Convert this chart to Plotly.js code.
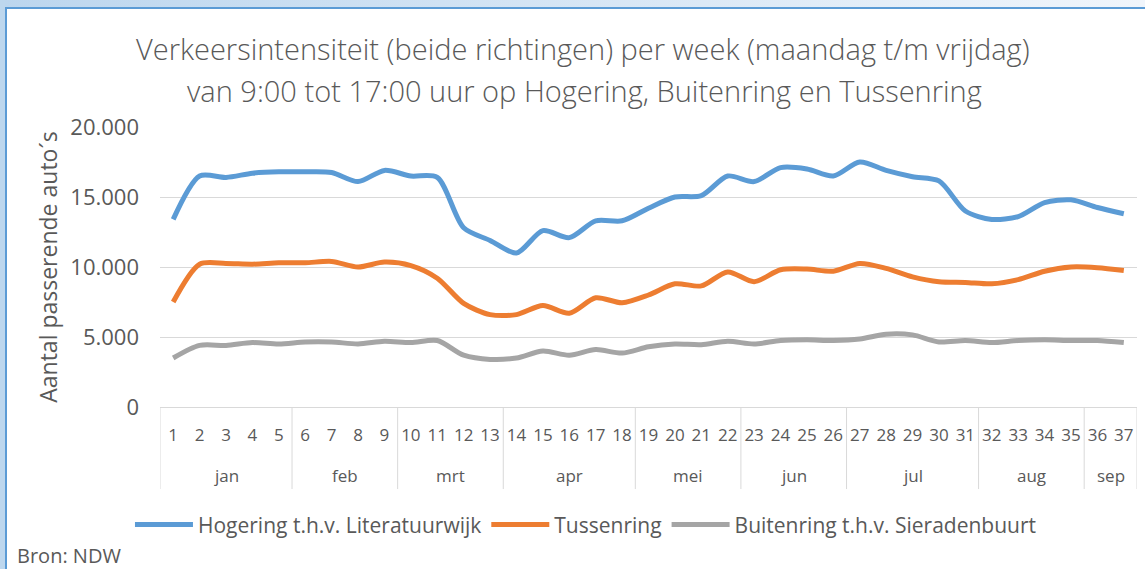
<!DOCTYPE html>
<html>
<head>
<meta charset="utf-8">
<script src="https://cdn.plot.ly/plotly-3.0.1.min.js"></script>
<style>
  html, body { margin: 0; padding: 0; background: #ffffff; }
  #wrap { position: relative; width: 1145px; height: 569px; overflow: hidden; }
  #chart { position: absolute; left: 0; top: 0; width: 1145px; height: 569px; }
  #topband { position: absolute; left: 0; top: 0; width: 1145px; height: 7px;
    background: linear-gradient(to right, #bcd6ee, #f0f5fb); }
  #topline { position: absolute; left: 5px; top: 7px; width: 1140px; height: 2px; background: #5b9bd5; }
  #leftband { position: absolute; left: 0; top: 0; width: 5px; height: 569px; background: #bdd7ee; }
  #leftline { position: absolute; left: 5px; top: 7px; width: 2px; height: 562px; background: #5b9bd5; }
</style>
</head>
<body>
<div id="wrap">
  <div id="chart"></div>
  <div id="topband"></div>
  <div id="leftband"></div>
  <div id="topline"></div>
  <div id="leftline"></div>
</div>
<script>
const weeks = ["1","2","3","4","5","6","7","8","9","10","11","12","13","14","15","16","17","18","19","20","21","22","23","24","25","26","27","28","29","30","31","32","33","34","35","36","37"];
const months = ["jan","jan","jan","jan","jan","feb","feb","feb","feb","mrt","mrt","mrt","mrt","apr","apr","apr","apr","apr","mei","mei","mei","mei","jun","jun","jun","jun","jul","jul","jul","jul","jul","aug","aug","aug","aug","sep","sep"];

const hogering = [13400,16500,16400,16700,16800,16800,16750,16100,16900,16500,16400,12800,11900,11000,12600,12100,13300,13300,14200,15000,15100,16500,16100,17100,17000,16500,17500,16900,16450,16150,14000,13400,13600,14600,14800,14250,13800];
const tussenring = [7500,10200,10250,10200,10300,10300,10400,10000,10350,10100,9200,7400,6600,6600,7250,6700,7800,7450,8000,8800,8650,9650,8950,9800,9850,9700,10250,9900,9300,8950,8900,8800,9100,9700,10000,9950,9750];
const buitenring = [3500,4400,4400,4600,4500,4650,4650,4500,4700,4600,4750,3700,3400,3500,4000,3700,4100,3850,4300,4500,4450,4700,4500,4750,4800,4750,4850,5200,5150,4650,4750,4600,4750,4800,4750,4750,4600];

const seriesNames = ["Hogering t.h.v. Literatuurwijk", "Tussenring", "Buitenring t.h.v. Sieradenbuurt"];
const seriesColors = ["#5b9bd5", "#ed7d31", "#a5a5a5"];
const seriesData = [hogering, tussenring, buitenring];

const fontFam = "'Open Sans', sans-serif";
const textColor = "#595959";
const lineGrey = "#d9d9d9";

const traces = seriesData.map((vals, i) => ({
  type: "scatter",
  mode: "lines",
  name: seriesNames[i],
  x: weeks,
  y: vals,
  line: { color: seriesColors[i], width: 5, shape: "spline", smoothing: 0.8 },
  hoverinfo: "y"
}));

// month groups (second category level) derived from the months array
const groups = [];
months.forEach((m, i) => {
  if (groups.length === 0 || groups[groups.length - 1].name !== m) {
    groups.push({ name: m, start: i, end: i });
  } else {
    groups[groups.length - 1].end = i;
  }
});

const shapes = [];
const annotations = [];
groups.forEach((g, k) => {
  if (k === 0) {
    shapes.push({ type: "line", xref: "x", yref: "paper", x0: g.start - 0.5, x1: g.start - 0.5, y0: 0, y1: -0.293,
      line: { color: lineGrey, width: 1 } });
  }
  shapes.push({ type: "line", xref: "x", yref: "paper", x0: g.end + 0.5, x1: g.end + 0.5, y0: 0, y1: -0.293,
    line: { color: lineGrey, width: 1 } });
  annotations.push({
    text: g.name, xref: "x", yref: "paper",
    x: (g.start + g.end) / 2, y: -0.246,
    xanchor: "center", yanchor: "middle", showarrow: false,
    font: { family: fontFam, size: 17, color: textColor }
  });
});

annotations.push({
  text: "van 9:00 tot 17:00 uur op Hogering, Buitenring en Tussenring",
  xref: "paper", yref: "paper",
  x: 0.434, y: 1.132,
  xanchor: "center", yanchor: "middle", showarrow: false,
  font: { family: fontFam, size: 29, color: textColor, weight: 300 }
});

annotations.push({
  text: "Bron: NDW",
  xref: "paper", yref: "paper",
  x: -0.148, y: -0.532,
  xanchor: "left", yanchor: "middle",
  showarrow: false,
  font: { family: fontFam, size: 20, color: textColor }
});

const layout = {
  width: 1145,
  height: 569,
  margin: { l: 160, r: 8, t: 127, b: 162 },
  paper_bgcolor: "#ffffff",
  plot_bgcolor: "#ffffff",
  separators: ",.",
  font: { family: fontFam, color: textColor, size: 18 },
  title: {
    text: "Verkeersintensiteit (beide richtingen) per week (maandag t/m vrijdag)",
    font: { family: fontFam, size: 29, color: textColor, weight: 300 },
    x: 0.509, xanchor: "center",
    y: 0.912, yanchor: "middle"
  },
  xaxis: {
    type: "category",
    range: [-0.5, 36.5],
    showgrid: false,
    showline: true,
    linecolor: lineGrey,
    linewidth: 1,
    ticks: "",
    ticklabelstandoff: 13,
    tickangle: 0,
    tickfont: { family: fontFam, size: 17, color: textColor },
    fixedrange: true
  },
  yaxis: {
    range: [0, 20000],
    dtick: 5000,
    tickformat: ",d",
    showgrid: true,
    gridcolor: lineGrey,
    gridwidth: 1,
    zeroline: false,
    showline: false,
    ticks: "",
    ticklabelstandoff: 20,
    tickfont: { family: fontFam, size: 22, color: textColor },
    title: { text: "Aantal passerende auto´s", font: { family: fontFam, size: 23, color: textColor }, standoff: 6 },
    fixedrange: true
  },
  showlegend: true,
  legend: {
    orientation: "h",
    x: 0.436, xanchor: "center",
    y: -0.421, yanchor: "middle",
    font: { family: fontFam, size: 21, color: textColor },
    itemwidth: 58,
    tracegroupgap: 0
  },
  shapes: shapes,
  annotations: annotations
};

Plotly.newPlot("chart", traces, layout, { displayModeBar: false, staticPlot: true });
</script>
</body>
</html>
